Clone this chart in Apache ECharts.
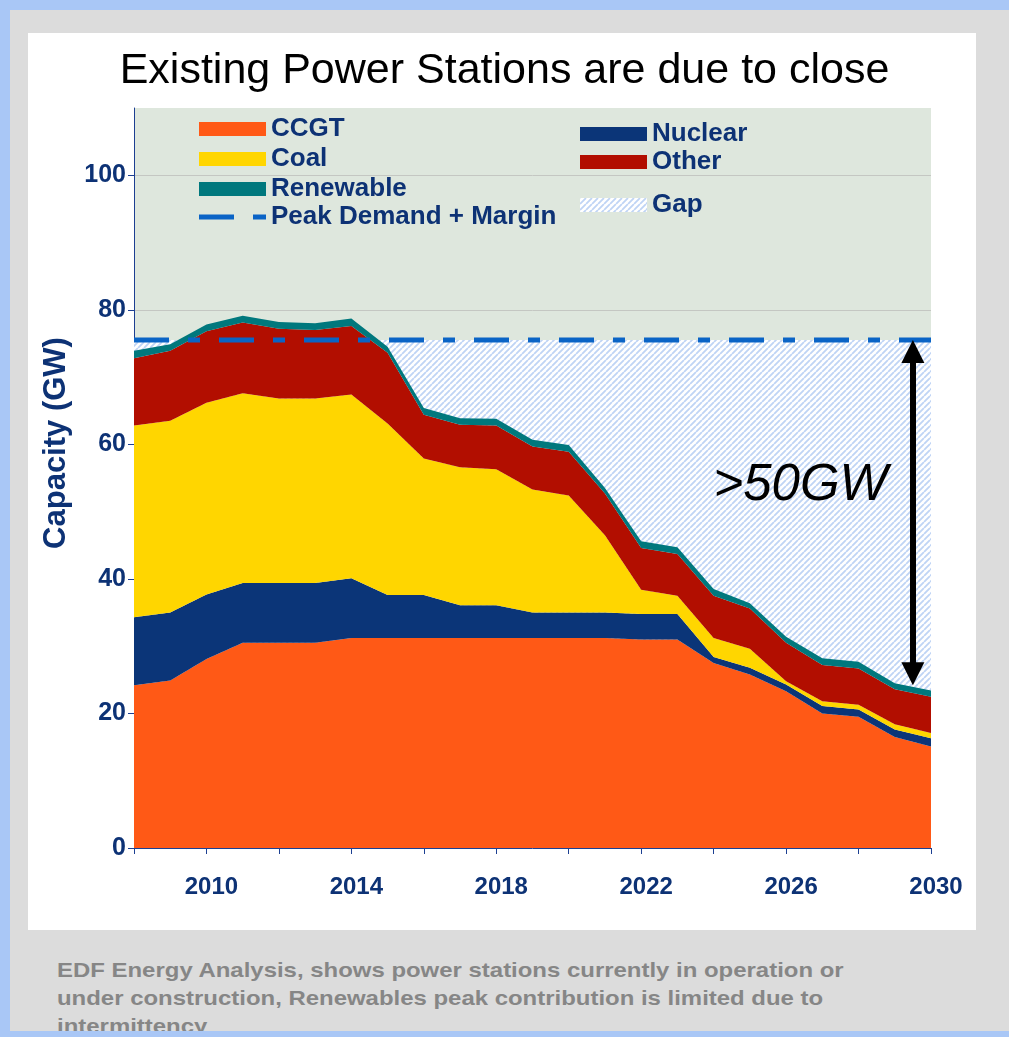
<!DOCTYPE html>
<html>
<head>
<meta charset="utf-8">
<title>Existing Power Stations are due to close</title>
<script src="https://cdn.jsdelivr.net/npm/echarts@6/dist/echarts.min.js"></script>
<style>
html, body { margin: 0; padding: 0; }
body { width: 1009px; height: 1037px; background: #a9c7f6; position: relative; overflow: hidden; font-family: 'Liberation Sans', Arial, sans-serif; }
.frame { position: absolute; left: 10px; top: 10px; width: 999px; height: 1021px; background: #dcdcdc; overflow: hidden; }
.panel { position: absolute; left: 18px; top: 23px; width: 948px; height: 897px; background: #fff; }
.note { position: absolute; left: 47px; top: 946px; width: 760px; font-size: 21px; line-height: 28px; font-weight: bold; color: #868686; white-space: nowrap; transform: scaleX(1.14); transform-origin: left top; }
#chart { position: absolute; left: 0; top: 0; width: 1009px; height: 1037px; }
</style>
</head>
<body>
<div class="frame">
  <div class="panel"></div>
  <div class="note">EDF Energy Analysis, shows power stations currently in operation or<br>under construction, Renewables peak contribution is limited due to<br>intermittency</div>
</div>
<div id="chart"></div>
<script>
var FONT = "'Liberation Sans', Arial, sans-serif"
var NAVY = '#0d3275'
var AXIS = '#1c3f92'

var years = [2008, 2009, 2010, 2011, 2012, 2013, 2014, 2015, 2016, 2017, 2018, 2019,
  2020, 2021, 2022, 2023, 2024, 2025, 2026, 2027, 2028, 2029, 2030]
var labelYears = [2010, 2014, 2018, 2022, 2026, 2030]

// GW, stacked bottom to top
var ccgt = [24.2, 24.9, 28.1, 30.5, 30.5, 30.5, 31.2, 31.2, 31.2, 31.2, 31.2, 31.2,
  31.2, 31.2, 31.0, 31.0, 27.5, 25.8, 23.3, 20.0, 19.5, 16.5, 15.1]
var nuclear = [10.1, 10.1, 9.6, 8.9, 8.9, 8.9, 8.9, 6.4, 6.4, 4.9, 4.9, 3.8,
  3.8, 3.8, 3.8, 3.8, 0.9, 1.0, 1.0, 1.1, 1.1, 1.1, 1.2]
var coal = [28.5, 28.5, 28.5, 28.2, 27.4, 27.4, 27.3, 25.5, 20.3, 20.5, 20.2, 18.3,
  17.4, 11.5, 3.6, 2.7, 2.8, 2.8, 0.5, 0.7, 0.7, 0.8, 0.8]
var other = [10.0, 10.4, 10.6, 10.5, 10.4, 10.2, 10.2, 10.5, 6.5, 6.3, 6.5, 6.4,
  6.5, 6.2, 6.2, 6.2, 6.3, 6.0, 5.7, 5.4, 5.4, 5.2, 5.4]
var renewable = [1.1, 1.0, 1.0, 1.0, 1.0, 1.0, 1.1, 0.9, 1.0, 1.0, 1.0, 1.0,
  1.0, 0.8, 1.0, 1.0, 1.0, 0.8, 0.9, 1.0, 1.0, 0.9, 0.9]
var demand = [75.5, 75.5, 75.5, 75.5, 75.5, 75.5, 75.5, 75.5, 75.5, 75.5, 75.5, 75.5,
  75.5, 75.5, 75.5, 75.5, 75.5, 75.5, 75.5, 75.5, 75.5, 75.5, 75.5]

// arrow + label annotation (year, GW)
var arrowX = 2029.5
var arrowTop = 73.8
var arrowBottom = 25.9
var gapLabel = [2026.4, 53.9]

function makeHatch() {
  var c = document.createElement('canvas')
  c.width = 6
  c.height = 6
  var g = c.getContext('2d')
  g.fillStyle = '#ffffff'
  g.fillRect(0, 0, 6, 6)
  g.strokeStyle = '#bfd4f5'
  g.lineWidth = 1.8
  g.beginPath()
  for (var k = -6; k <= 6; k += 6) {
    g.moveTo(k, 6)
    g.lineTo(k + 6, 0)
  }
  g.stroke()
  return { image: c, repeat: 'repeat' }
}
var hatch = makeHatch()

function stackArea(name, data, color) {
  return {
    name: name,
    type: 'line',
    stack: 'cap',
    data: data,
    symbol: 'none',
    color: color,
    itemStyle: { color: color },
    lineStyle: { width: 0 },
    areaStyle: { color: color, opacity: 1 },
    silent: true,
    z: 3
  }
}

var legendText = { fontSize: 26, fontWeight: 'bold', color: NAVY, fontFamily: FONT }
var legendBase = {
  orient: 'vertical',
  icon: 'rect',
  itemWidth: 67,
  itemHeight: 14,
  padding: 0,
  selectedMode: false,
  textStyle: legendText,
  itemStyle: { borderWidth: 0 }
}

var chart = echarts.init(document.getElementById('chart'))
chart.setOption({
  animation: false,
  title: {
    text: 'Existing Power Stations are due to close',
    left: 'center',
    top: 45,
    textStyle: { fontSize: 43, fontWeight: 'normal', color: '#000', fontFamily: FONT }
  },
  legend: [
    Object.assign({}, legendBase, { data: ['CCGT', 'Coal', 'Renewable'], left: 199, top: 116, itemGap: 4 }),
    Object.assign({}, legendBase, {
      data: ['Peak Demand + Margin'], left: 199, top: 204,
      icon: 'path://M0,0H35V5H0ZM54,0H67V5H54Z', itemHeight: 5
    }),
    Object.assign({}, legendBase, { data: ['Nuclear', 'Other'], left: 580, top: 121, itemGap: 2 }),
    Object.assign({}, legendBase, { data: ['Gap'], left: 580, top: 192 })
  ],
  grid: {
    left: 134,
    right: 78,
    top: 108,
    bottom: 189,
    show: true,
    backgroundColor: '#dee7dd',
    borderWidth: 0
  },
  xAxis: [
    {
      type: 'category',
      data: years,
      boundaryGap: false,
      axisLine: { show: true, lineStyle: { color: AXIS, width: 1 } },
      axisTick: {
        show: true,
        length: 6,
        interval: function (i) { return i % 2 === 0 },
        lineStyle: { color: AXIS }
      },
      axisLabel: {
        interval: function (i, v) { return labelYears.indexOf(+v) >= 0 },
        fontSize: 24,
        fontWeight: 'bold',
        color: NAVY,
        fontFamily: FONT,
        margin: 27,
        padding: [0, 0, 0, 10]
      },
      splitLine: { show: false }
    },
    {
      type: 'value',
      min: 2008,
      max: 2030,
      show: false
    }
  ],
  yAxis: {
    type: 'value',
    min: 0,
    max: 110,
    interval: 20,
    name: 'Capacity (GW)',
    nameLocation: 'middle',
    nameGap: 62,
    nameTextStyle: { fontSize: 31, fontWeight: 'bold', color: NAVY, fontFamily: FONT, padding: [0, 0, 0, 70] },
    axisLine: { show: true, lineStyle: { color: AXIS, width: 1 } },
    axisTick: { show: true, length: 6, lineStyle: { color: AXIS } },
    axisLabel: {
      fontSize: 25,
      fontWeight: 'bold',
      color: NAVY,
      fontFamily: FONT,
      margin: 8,
      showMaxLabel: false,
      formatter: function (v) { return v > 100 ? '' : String(v) }
    },
    splitLine: { show: true, showMinLine: false, showMaxLine: false, lineStyle: { color: '#c4c7c2', width: 1 } }
  },
  series: [
    {
      name: 'Gap',
      type: 'line',
      data: demand,
      symbol: 'none',
      color: hatch,
      itemStyle: { color: hatch },
      lineStyle: { width: 0 },
      areaStyle: { color: hatch, opacity: 1 },
      silent: true,
      z: 2
    },
    stackArea('CCGT', ccgt, '#ff5916'),
    stackArea('Nuclear', nuclear, '#0b3578'),
    stackArea('Coal', coal, '#ffd600'),
    stackArea('Other', other, '#b20e00'),
    stackArea('Renewable', renewable, '#00787d'),
    {
      name: 'Peak Demand + Margin',
      type: 'line',
      xAxisIndex: 1,
      data: years.map(function (y, i) { return [y, demand[i]] }),
      symbol: 'none',
      color: '#0a64c6',
      itemStyle: { color: '#0a64c6' },
      lineStyle: { color: '#0a64c6', width: 5, type: [35, 19, 12, 19] },
      silent: true,
      z: 4,
      markLine: {
        silent: true,
        symbol: ['triangle', 'triangle'],
        symbolSize: [23, 23],
        lineStyle: { color: '#000', width: 6, type: 'solid' },
        label: { show: false },
        data: [[{ coord: [arrowX, arrowTop] }, { coord: [arrowX, arrowBottom] }]]
      },
      markPoint: {
        silent: true,
        symbol: 'circle',
        symbolSize: 1,
        itemStyle: { color: 'transparent' },
        label: {
          show: true,
          position: 'inside',
          formatter: '>50GW',
          color: '#000',
          fontSize: 51,
          fontStyle: 'italic',
          fontWeight: 'normal',
          fontFamily: FONT
        },
        data: [{ coord: gapLabel }]
      }
    }
  ]
})
</script>
</body>
</html>
